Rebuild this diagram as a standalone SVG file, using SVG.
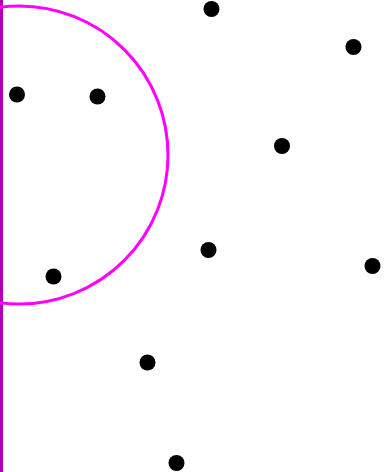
<svg xmlns="http://www.w3.org/2000/svg" width="387" height="472" viewBox="0 0 387 472">
<style>
.dot{fill:#000}
.circle{fill:none;stroke:#ff00ff;stroke-width:3}
.line{stroke:#b000b0;stroke-width:3}
</style>
<rect width="387" height="472" fill="#fff"/>
<g id="connectors">
<line class="line" x1="1.5" y1="0" x2="1.5" y2="472"/>
<circle class="circle" cx="19" cy="155" r="149"/>
</g>
<g id="p1"><circle class="dot" cx="17" cy="94.5" r="8"/></g>
<g id="p2"><circle class="dot" cx="97.5" cy="96.5" r="8"/></g>
<g id="p3"><circle class="dot" cx="53.5" cy="276.5" r="8"/></g>
<g id="p4"><circle class="dot" cx="211.5" cy="9" r="8"/></g>
<g id="p5"><circle class="dot" cx="353.5" cy="47" r="8"/></g>
<g id="p6"><circle class="dot" cx="282" cy="146" r="8"/></g>
<g id="p7"><circle class="dot" cx="208.5" cy="250" r="8"/></g>
<g id="p8"><circle class="dot" cx="372.5" cy="266" r="8"/></g>
<g id="p9"><circle class="dot" cx="147.5" cy="362.5" r="8"/></g>
<g id="p10"><circle class="dot" cx="176.5" cy="463" r="8"/></g>
</svg>
